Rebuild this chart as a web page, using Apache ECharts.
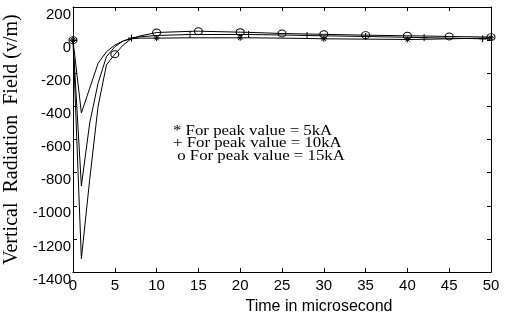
<!DOCTYPE html>
<html>
<head>
<meta charset="utf-8">
<script src="https://cdn.jsdelivr.net/npm/echarts@6/dist/echarts.min.js"></script>
<style>
  html, body { margin: 0; padding: 0; background: #fff; }
  #chart { width: 505px; height: 320px; }
</style>
</head>
<body>
<div id="chart"></div>
<script>
// time axis (microseconds) shared by the three curves
var times = [0, 1, 2, 3, 4, 5, 6, 7, 8, 10, 14, 15, 20, 21, 25, 28, 30, 35, 40, 42, 45, 49, 50]
var field5kA = [0, -440, -290, -140, -70, -30, -5, 8, 12, 12, 14, 14, 14, 14, 12, 10, 8, 6, 4, 5, 8, 12, 14]
var field10kA = [0, -880, -500, -260, -100, -40, -5, 12, 20, 28, 34, 34, 34, 34, 31, 28, 26, 22, 17, 15, 12, 8, 8]
var field15kA = [0, -1320, -840, -400, -150, -85, -30, 10, 25, 46, 53, 54, 48, 47, 40, 37, 35, 30, 26, 25, 22, 19, 18]
// where the markers sit on each curve
var starMarks = [0, 10, 20, 30, 40, 50]
var plusMarks = [0, 7, 14, 21, 28, 35, 42, 49]
var circleMarks = [0, 5, 10, 15, 20, 25, 30, 35, 40, 45, 50]
var notes = ['* For peak value = 5kA', '+ For peak value = 10kA', ' o For peak value = 15kA']

var STAR = 'path://M5,0L5,10M0,5L10,5M1.5,1.5L8.5,8.5M8.5,1.5L1.5,8.5'
var PLUS = 'path://M5,0L5,10M0,5L10,5'

function buildData(values, marks, symbol, size) {
  return times.map(function(t, i) {
    var on = marks.indexOf(t) >= 0
    return {
      value: [t, values[i]],
      symbol: on ? symbol : 'none',
      symbolSize: size
    }
  })
}

function lineSeries(values, marks, symbol, size) {
  return {
    type: 'line',
    data: buildData(values, marks, symbol, size),
    showAllSymbol: true,
    lineStyle: { color: '#000', width: 1 },
    itemStyle: { color: 'none', borderColor: '#000', borderWidth: 1 },
    animation: false,
    z: 3
  }
}

var chart = echarts.init(document.getElementById('chart'))
var tickFont = { fontFamily: 'Liberation Sans, Arial, sans-serif', fontSize: 15, color: '#000' }
var boxAxis = {
  axisLine: { onZero: false, lineStyle: { color: '#000', width: 1 } },
  axisTick: { inside: true, length: 4, lineStyle: { color: '#000' } },
  splitLine: { show: false }
}

chart.setOption({
  backgroundColor: '#fff',
  grid: { left: 73, right: 14, top: 7, bottom: 48, outerBoundsMode: 'none', containLabel: false },
  xAxis: [Object.assign({
    type: 'value', min: 0, max: 50, interval: 5,
    name: 'Time in microsecond', nameLocation: 'middle', nameGap: 27,
    nameTextStyle: { fontFamily: 'Liberation Sans, Arial, sans-serif', fontSize: 16, color: '#000', padding: [0, 0, 0, 74] },
    axisLabel: Object.assign({ margin: 6 }, tickFont)
  }, boxAxis), Object.assign({
    type: 'value', min: 0, max: 50, interval: 5, position: 'top',
    axisLabel: { show: false }
  }, boxAxis)],
  yAxis: [Object.assign({
    type: 'value', min: -1400, max: 200, interval: 200,
    name: 'Vertical  Radiation  Field (v/m)', nameLocation: 'middle', nameGap: 33,
    nameTextStyle: { fontFamily: 'Liberation Serif, Times New Roman, serif', fontSize: 20, color: '#000' },
    axisLabel: Object.assign({
      margin: 2, verticalAlign: 'top',
      formatter: function(v) { return String(v) }
    }, tickFont)
  }, boxAxis), Object.assign({
    type: 'value', min: -1400, max: 200, interval: 200, position: 'right',
    axisLabel: { show: false }
  }, boxAxis)],
  graphic: notes.map(function(s, i) {
    return {
      type: 'text', left: 173, top: 124 + i * 12.8,
      scaleX: 1.2,
      style: { text: s, fontFamily: 'Liberation Serif, Times New Roman, serif', fontSize: 14, fill: '#000' }
    }
  }),
  series: [
    lineSeries(field5kA, starMarks, STAR, 6),
    lineSeries(field10kA, plusMarks, PLUS, 7),
    lineSeries(field15kA, circleMarks, 'circle', [8, 7])
  ]
})
</script>
</body>
</html>
